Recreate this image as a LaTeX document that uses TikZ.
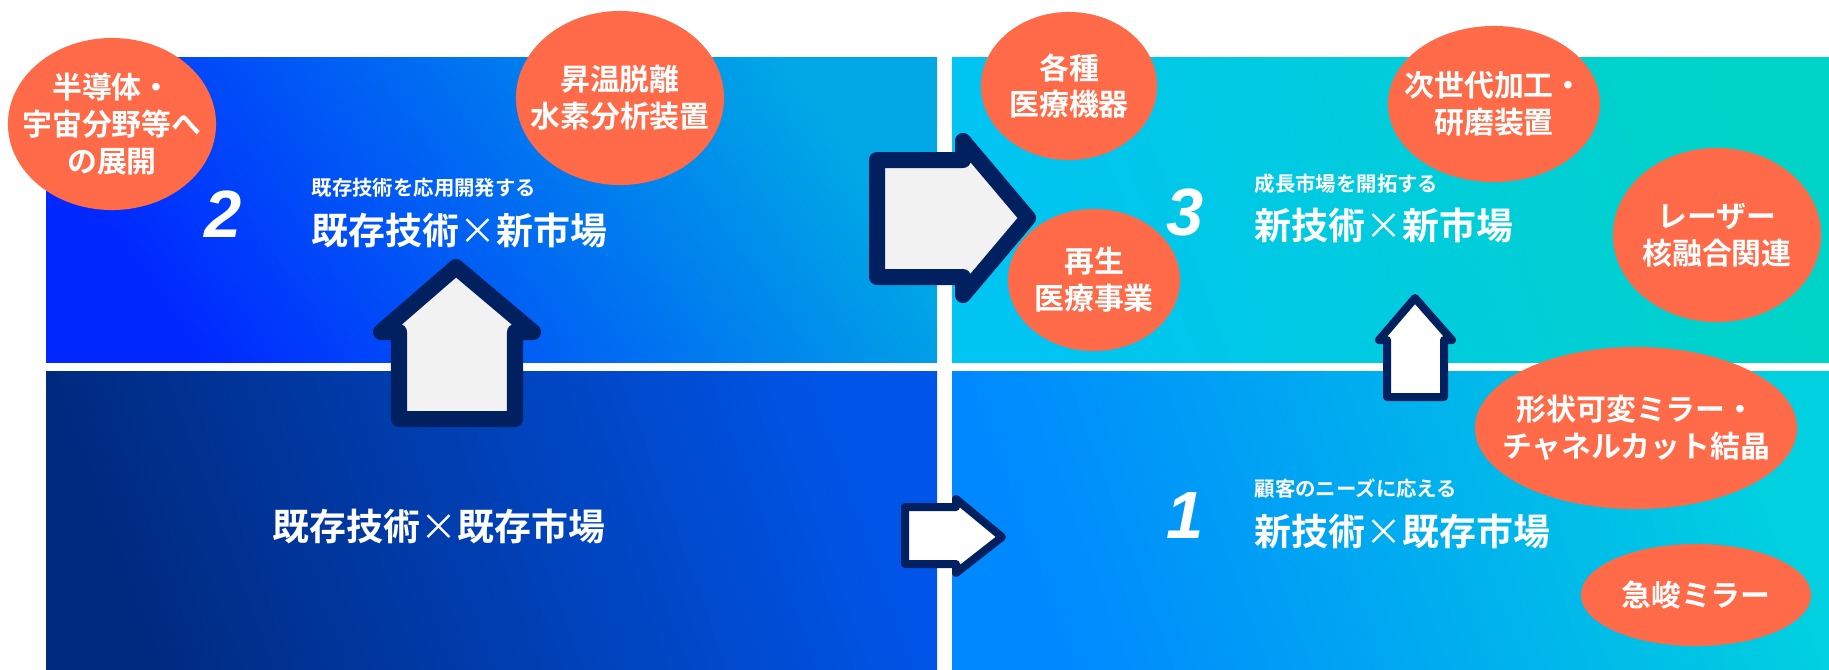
\documentclass[tikz,border=0pt]{standalone}
\usepackage{fontspec}
\setmainfont{Noto Sans CJK JP}[BoldFont={Noto Sans CJK JP Bold}]
\newfontfamily\numfont{Liberation Sans}
\usepackage{xcolor}
\usetikzlibrary{shapes.geometric}
\definecolor{bubblecol}{HTML}{FF6A48}
\definecolor{navy}{HTML}{00205F}
\definecolor{pale}{HTML}{F2F2F2}
\definecolor{tlA}{HTML}{0028FF}
\definecolor{tlB}{HTML}{00A8E6}
\definecolor{blA}{HTML}{002A80}
\definecolor{blB}{HTML}{0055E8}
\definecolor{trA}{HTML}{00C4F2}
\definecolor{trB}{HTML}{00D4C8}
\definecolor{brA}{HTML}{0088FF}
\definecolor{brB}{HTML}{00D0E0}
\tikzset{
    bubble/.style={ellipse, fill=bubblecol, text=white, align=center, inner sep=-40pt,
        font=\bfseries\fontsize{8.5}{10.5}\selectfont},
    bigarr/.style={draw=navy, fill=pale, line width=0.16cm, line join=round},
    smallarr/.style={draw=navy, fill=white, line width=0.08cm, line join=round},
    maintxt/.style={text=white, inner sep=0pt, font=\bfseries\fontsize{10.5}{12}\selectfont},
    subtxt/.style={text=white, inner sep=0pt, anchor=west, font=\bfseries\fontsize{5.8}{7}\selectfont},
    numtxt/.style={text=white, inner sep=0pt, font=\numfont\bfseries\itshape\fontsize{19}{20}\selectfont}
}
\newcommand{\tms}{{\mdseries ×}}

\begin{document}
\begin{tikzpicture}[x=0.01cm, y=-0.01cm]
        \useasboundingbox (0,0) rectangle (1829,669);
        % quadrants
        \shade[left color=tlA, right color=tlB, shading angle=125] (46,57) rectangle (937,362);
        \shade[left color=blA, right color=blB, shading angle=110] (46,371) rectangle (937,669);
        \shade[left color=trA, right color=trB, shading angle=110] (952,57) rectangle (1829,362);
        \shade[left color=brA, right color=brB, shading angle=110] (952,371) rectangle (1829,669);

        % texts
        \node[numtxt] (n2) at (223,214) {2};
        \node[subtxt] (sub2) at (311,188) {既存技術を応用開発する};
        \node[maintxt, anchor=west] (m2) at (311,230) {既存技術\tms 新市場};
        \node[numtxt] (n3) at (1185,212) {3};
        \node[subtxt] (sub3) at (1254,184) {成長市場を開拓する};
        \node[maintxt, anchor=west] (m3) at (1254,225) {新技術\tms 新市場};
        \node[maintxt] (m0) at (439,526) {既存技術\tms 既存市場};
        \node[numtxt] (n1) at (1185,516) {1};
        \node[subtxt] (sub1) at (1254,489) {顧客のニーズに応える};
        \node[maintxt, anchor=west] (m1) at (1254,531) {新技術\tms 既存市場};

        % arrows
        \draw[bigarr] (456,267) -- (533,332) -- (515,332) -- (515,419) -- (399,419)
            -- (399,332) -- (381,332) -- cycle;
        \draw[bigarr] (877,160) -- (963,160) -- (963,141) -- (1028,218) -- (963,295)
            -- (963,277) -- (877,277) -- cycle;
        \draw[smallarr] (1415,298) -- (1452,340) -- (1444,340) -- (1444,397) -- (1387,397)
            -- (1387,340) -- (1379,340) -- cycle;
        \draw[smallarr] (905,507) -- (956,507) -- (956,499) -- (1002,537) -- (956,573)
            -- (956,564) -- (905,564) -- cycle;

        % bubbles
        \node[bubble, minimum width=2.08cm, minimum height=1.72cm] (semi) at (112,124) {半導体・\\宇宙分野等へ\\の展開};
        \node[bubble, minimum width=2.08cm, minimum height=1.74cm] (hydro) at (620,98) {昇温脱離\\水素分析装置};
        \node[bubble, minimum width=1.76cm, minimum height=1.48cm] (medic) at (1069,86) {各種\\医療機器};
        \node[bubble, minimum width=1.72cm, minimum height=1.42cm] (regen) at (1094,280) {再生\\医療事業};
        \node[bubble, minimum width=2.12cm, minimum height=1.56cm] (polish) at (1494,104) {次世代加工・\\研磨装置};
        \node[bubble, minimum width=2.08cm, minimum height=1.74cm] (laser) at (1717,235) {レーザー\\核融合関連};
        \node[bubble, minimum width=3.22cm, minimum height=1.62cm] (mirror) at (1636,428) {形状可変ミラー・\\チャネルカット結晶};
        \node[bubble, minimum width=2.30cm, minimum height=1.02cm] (steep) at (1696,595) {急峻ミラー};
\end{tikzpicture}
\end{document}
